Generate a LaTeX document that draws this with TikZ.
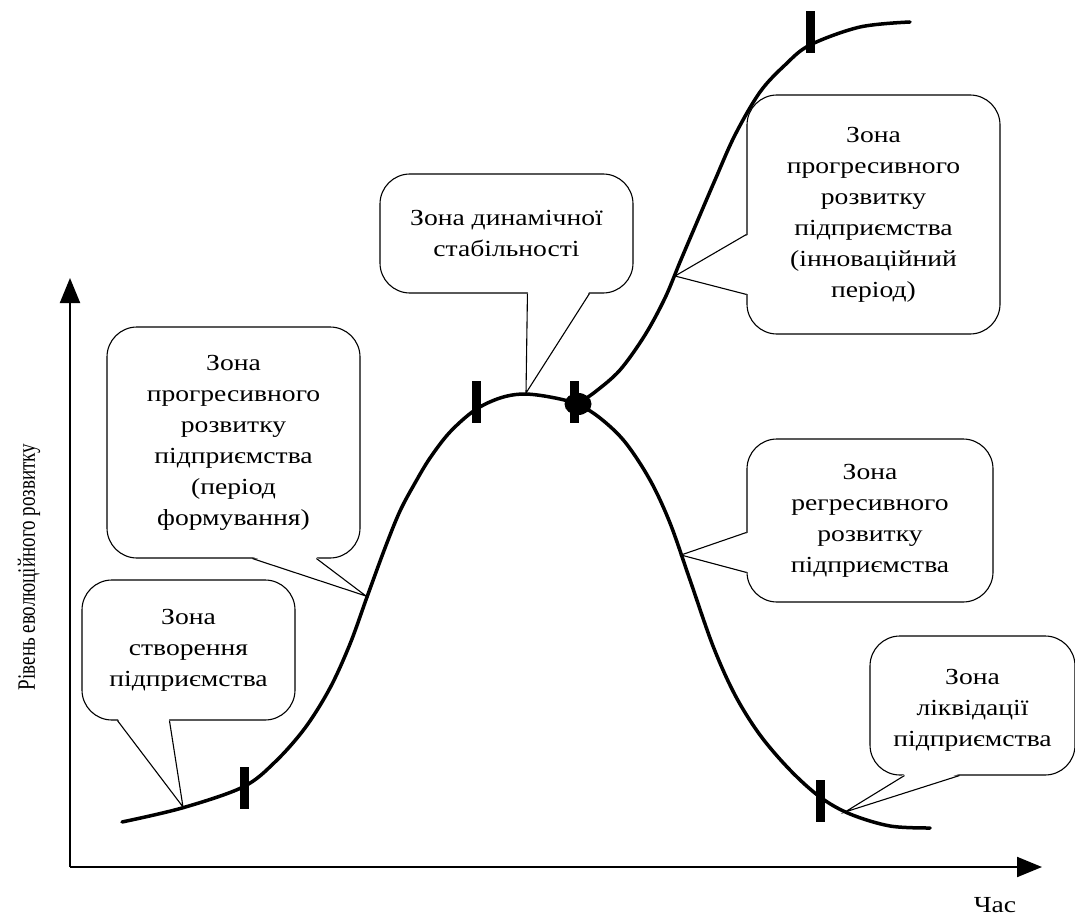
\documentclass[tikz,border=0pt]{standalone}
\usepackage{fontspec}
\setmainfont{Liberation Serif}[FakeStretch=1.2]
\newfontfamily\ylabfont{Liberation Serif}[FakeStretch=0.76]
\usetikzlibrary{arrows.meta,calc,shapes.geometric}
\begin{document}
\begin{tikzpicture}[x=1pt,y=-1pt,
  callout/.style={draw, line width=1.1pt, rounded corners=30pt, fill=white, align=center, inner sep=0pt, font=\fontsize{23}{31}\selectfont},
  ptr/.style={line width=1.1pt, line join=miter},
  tickmark/.style={fill=black, minimum width=9pt, minimum height=42pt, inner sep=0pt},
  curve/.style={line width=3.5pt, line cap=round, line join=round},
  axis/.style={line width=2pt, -{Triangle[length=25pt,width=20pt]}}]
\useasboundingbox (0,0) rectangle (1075,920);

% axes
\coordinate (O) at (70,867);
\coordinate (Ytip) at (70,278);
\coordinate (Xtip) at (1042,867);
\draw[axis] (O) -- (Ytip);
\draw[axis] (O) -- (Xtip);
\node[font=\fontsize{23}{28}\selectfont] (xl) at (995,905) {Час};
\node[rotate=90, font=\ylabfont\fontsize{25}{28}\selectfont] (yl) at (29,567) {Рівень еволюційного розвитку};

% curves
\draw[curve] plot[smooth, tension=0.55] coordinates {(122,822) (182,808) (243,787) (275,762) (305,728) (330,688) (350,644) (367,597) (385,548) (400,511) (415,483) (430,458) (450,432) (475,410) (500,398) (523,394) (550,397) (577,404) (600,418) (625,442) (650,480) (670,523) (690,580) (713,646) (735,695) (760,735) (790,770) (820,797) (850,814) (890,826) (930,828)};
\draw[curve] plot[smooth, tension=0.55] coordinates {(577,404) (595,392) (620,370) (645,335) (665,298) (680,262) (697,222) (715,180) (735,135) (760,92) (785,65) (810,45) (860,27) (910,22)};

% callouts
\node[callout, minimum width=213pt, minimum height=140pt] (c1) at (188.5,650) {Зона\\створення\\підприємства};
\node[callout, minimum width=253pt, minimum height=231pt] (c2) at (233.5,442.5) {Зона\\прогресивного\\розвитку\\підприємства\\(період\\формування)};
\node[callout, minimum width=253pt, minimum height=119pt] (c3) at (506.5,233.5) {Зона динамічної\\стабільності};
\node[callout, minimum width=253pt, minimum height=239pt] (c4) at (873.5,214.5) {Зона\\прогресивного\\розвитку\\підприємства\\(інноваційний\\період)};
\node[callout, minimum width=246pt, minimum height=163pt] (c5) at (870,520.5) {Зона\\регресивного\\розвитку\\підприємства};
\node[callout, minimum width=205pt, minimum height=139pt] (c6) at (972.5,705.5) {\\[-6pt]Зона\\ліквідації\\підприємства};

% pointer tips and bases
\coordinate (t1) at (183,807);
\coordinate (a1) at ($(c1.south west)+(36,0)$);
\coordinate (b1) at ($(c1.south west)+(88,0)$);
\coordinate (t2) at (366,596);
\coordinate (a2) at ($(c2.south west)+(146,0)$);
\coordinate (b2) at ($(c2.south west)+(210,0)$);
\coordinate (t3) at (526,393);
\coordinate (a3) at ($(c3.south west)+(148,0)$);
\coordinate (b3) at ($(c3.south west)+(210,0)$);
\coordinate (t4) at (675,276);
\coordinate (a4) at ($(c4.north west)+(0,140)$);
\coordinate (b4) at ($(c4.north west)+(0,200)$);
\coordinate (t5) at (681,555);
\coordinate (a5) at ($(c5.north west)+(0,94)$);
\coordinate (b5) at ($(c5.north west)+(0,134)$);
\coordinate (t6) at (845,812);
\coordinate (a6) at ($(c6.south west)+(35,0)$);
\coordinate (b6) at ($(c6.south west)+(90,0)$);

\foreach \i in {1,2,3,6}{
  \fill[white] ($(a\i)+(0.4,-1.6)$) -- (t\i) -- ($(b\i)+(-0.4,-1.6)$) -- cycle;
  \draw[ptr] (a\i) -- (t\i) -- (b\i);
}
\foreach \i in {4,5}{
  \fill[white] ($(a\i)+(1.6,0.4)$) -- (t\i) -- ($(b\i)+(1.6,-0.4)$) -- cycle;
  \draw[ptr] (a\i) -- (t\i) -- (b\i);
}

% ticks and dot
\node[tickmark] (k1) at (244,788) {};
\node[tickmark] (k2) at (476,402) {};
\node[tickmark] (k3) at (574,402) {};
\node[ellipse, fill=black, minimum width=27pt, minimum height=22pt, inner sep=0pt] (dot) at (578,404) {};
\node[tickmark] (k4) at (810,32) {};
\node[tickmark] (k5) at (820,801) {};
\end{tikzpicture}
\end{document}
